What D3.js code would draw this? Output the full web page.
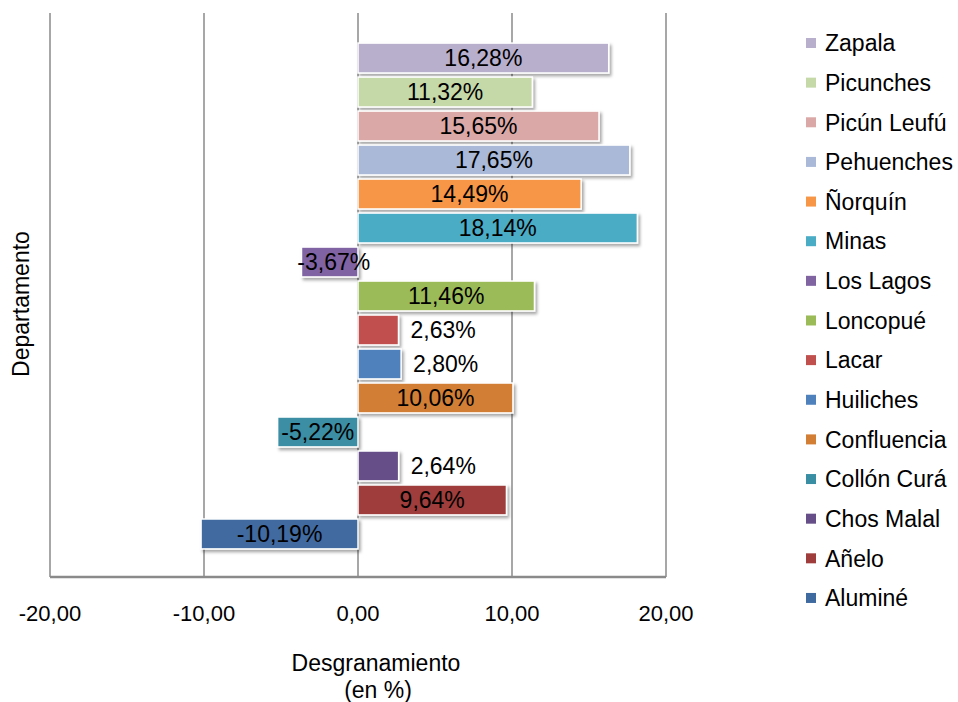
<!DOCTYPE html>
<html>
<head>
<meta charset="utf-8">
<script src="https://cdn.jsdelivr.net/npm/d3@7"></script>
<style>
  body { margin: 0; background: #fff; }
  text { font-family: "Liberation Sans", Arial, sans-serif; fill: #000; }
</style>
</head>
<body>
<div id="chart"></div>
<script>
// data, top to bottom as drawn
const departamentos = ["Zapala", "Picunches", "Picún Leufú", "Pehuenches", "Ñorquín", "Minas",
  "Los Lagos", "Loncopué", "Lacar", "Huiliches", "Confluencia", "Collón Curá", "Chos Malal", "Añelo", "Aluminé"]
const valores = [16.28, 11.32, 15.65, 17.65, 14.49, 18.14, -3.67, 11.46, 2.63, 2.80, 10.06, -5.22, 2.64, 9.64, -10.19]
const colores = ["#b8afcc", "#c5d8a8", "#daa8a7", "#a9b9d7", "#f79646", "#4bacc6",
  "#8064a2", "#9bbb59", "#c0504d", "#4f81bd", "#d27e35", "#3a8ea3", "#664f88", "#9e3d3b", "#3f6aa0"]
const xTicks = [-20, -10, 0, 10, 20]

const width = 958
const height = 702
const fontSize = 23

const loc = d3.formatLocale({ decimal: ",", thousands: ".", grouping: [3], currency: ["$", ""], minus: "-" })
const fmtTick = loc.format(".2f")
const fmtLabel = d => loc.format(".2f")(d) + "%"

const svg = d3.select("#chart").append("svg")
  .attr("width", width)
  .attr("height", height)

const defs = svg.append("defs")
const shadow = defs.append("filter").attr("id", "shadow")
  .attr("x", "-10%").attr("y", "-30%").attr("width", "130%").attr("height", "180%")
shadow.append("feDropShadow")
  .attr("dx", 2).attr("dy", 2.5).attr("stdDeviation", 1.6)
  .attr("flood-color", "#000").attr("flood-opacity", 0.35)

const x = d3.scaleLinear().domain([-20, 20]).range([50, 666])
const y = d3.scaleBand().domain(departamentos).range([39, 553]).padding(0.12)

const plotTop = 13
const plotBottom = 577

// vertical gridlines
svg.append("g").selectAll("line")
  .data(xTicks)
  .enter().append("line")
  .attr("x1", d => x(d)).attr("x2", d => x(d))
  .attr("y1", plotTop).attr("y2", plotBottom)
  .style("stroke", "#8a8a8a")
  .style("stroke-width", 1.5)

// bottom axis line
svg.append("line")
  .attr("x1", x(-20)).attr("x2", x(20))
  .attr("y1", plotBottom).attr("y2", plotBottom)
  .style("stroke", "#8a8a8a")
  .style("stroke-width", 2.5)

const rows = departamentos.map((d, i) => ({ name: d, value: valores[i], color: colores[i] }))

// bars
svg.append("g").selectAll("rect")
  .data(rows)
  .enter().append("rect")
  .attr("x", d => x(Math.min(0, d.value)))
  .attr("y", d => y(d.name))
  .attr("width", d => Math.abs(x(d.value) - x(0)))
  .attr("height", y.bandwidth())
  .style("fill", d => d.color)
  .style("stroke", "#fff")
  .style("stroke-width", 1.5)
  .attr("filter", "url(#shadow)")

// bar labels
const labels = svg.append("g").selectAll("text")
  .data(rows)
  .enter().append("text")
  .attr("y", d => y(d.name) + y.bandwidth() / 2)
  .attr("dy", "0.36em")
  .style("font-size", fontSize + "px")
  .text(d => fmtLabel(d.value))

labels.each(function (d) {
  const tw = this.getComputedTextLength()
  const bw = Math.abs(x(d.value) - x(0))
  const sel = d3.select(this)
  if (tw + 6 < bw) {
    sel.attr("x", (x(d.value) + x(0)) / 2).attr("text-anchor", "middle")
  } else if (d.value > 0) {
    sel.attr("x", x(d.value) + 12).attr("text-anchor", "start")
  } else {
    sel.attr("x", (x(d.value) + x(0)) / 2 + 4).attr("text-anchor", "middle")
  }
})

// x tick labels
svg.append("g").selectAll("text")
  .data(xTicks)
  .enter().append("text")
  .attr("x", d => x(d))
  .attr("y", 621)
  .attr("text-anchor", "middle")
  .style("font-size", (fontSize - 1) + "px")
  .text(d => fmtTick(d))

// axis titles
svg.append("text")
  .attr("x", 376).attr("y", 671)
  .attr("text-anchor", "middle")
  .style("font-size", fontSize + "px")
  .text("Desgranamiento")
svg.append("text")
  .attr("x", 378).attr("y", 698)
  .attr("text-anchor", "middle")
  .style("font-size", fontSize + "px")
  .text("(en %)")

svg.append("text")
  .attr("transform", "translate(29,304) rotate(-90)")
  .attr("text-anchor", "middle")
  .style("font-size", fontSize + "px")
  .text("Departamento")

// legend
const legend = svg.append("g").selectAll("g")
  .data(rows)
  .enter().append("g")
  .attr("transform", (d, i) => "translate(806," + (43 + i * 39.64) + ")")

legend.append("rect")
  .attr("x", 0).attr("y", -5)
  .attr("width", 10).attr("height", 10)
  .style("fill", d => d.color)

legend.append("text")
  .attr("x", 19)
  .attr("dy", "0.36em")
  .style("font-size", fontSize + "px")
  .text(d => d.name)
</script>
</body>
</html>
